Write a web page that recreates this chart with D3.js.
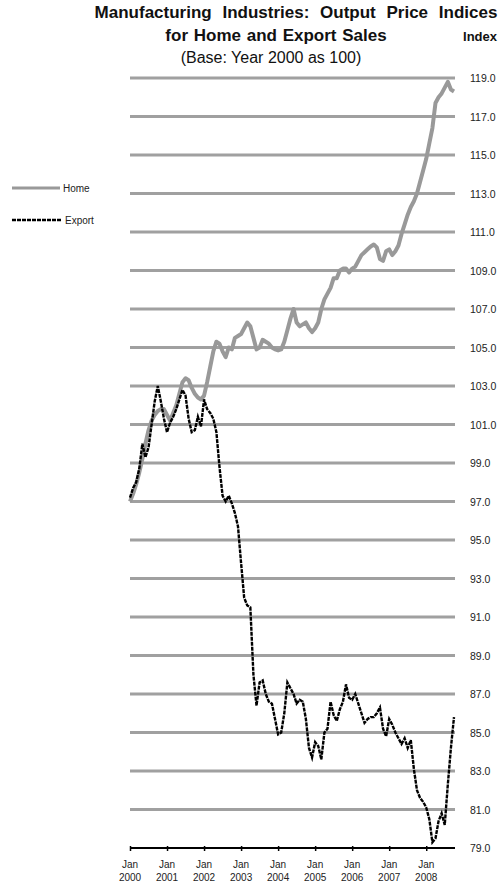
<!DOCTYPE html>
<html>
<head>
<meta charset="utf-8">
<script src="https://cdn.jsdelivr.net/npm/d3@7"></script>
<style>
  html, body { margin: 0; padding: 0; background: #fff; }
  svg { display: block; font-family: "Liberation Sans", Arial, sans-serif; }
</style>
</head>
<body>
<svg id="chart" width="499" height="887"></svg>
<script>
// ---- Data (monthly, Jan 2000 .. Oct 2008) ----
const startYear = 2000;
const homeValues = [
  97.0, 97.4, 97.9, 98.5, 99.2, 100.0, 100.7, 101.2, 101.5, 101.7, 101.8, 101.8,
  101.5, 101.2, 101.6, 102.0, 102.6, 103.2, 103.4, 103.3, 102.9, 102.6, 102.4, 102.3,
  102.5, 103.2, 104.0, 104.8, 105.3, 105.2, 104.8, 104.5, 105.0, 104.9, 105.5, 105.6,
  105.7, 106.0, 106.3, 106.1, 105.5, 104.9, 105.0, 105.4, 105.3, 105.2, 105.0, 104.9,
  104.85, 104.9, 105.3, 105.9, 106.5, 107.0, 106.3, 106.1, 106.2, 106.3, 106.0, 105.8,
  106.0, 106.3, 107.0, 107.5, 107.8, 108.1, 108.6, 108.6, 109.0, 109.1, 109.1, 108.9,
  109.1, 109.2, 109.5, 109.8, 109.95, 110.1, 110.25, 110.35, 110.2, 109.6, 109.5, 110.0,
  110.1, 109.8, 110.0, 110.3, 110.9, 111.4, 111.9, 112.3, 112.6, 113.0, 113.6, 114.2,
  114.8, 115.6, 116.4, 117.7, 118.0, 118.2, 118.5, 118.8, 118.4, 118.3
];
const exportValues = [
  97.2, 97.7, 98.0, 98.7, 100.0, 99.3, 99.8, 101.0, 102.2, 103.0, 102.2, 101.3,
  100.6, 101.1, 101.4, 101.8, 102.3, 102.8, 102.5, 101.3, 100.6, 100.7, 101.4, 100.9,
  102.3, 101.8, 101.6, 101.3, 100.6, 98.8, 97.3, 97.0, 97.3, 96.9, 96.4, 95.7,
  93.8, 92.0, 91.6, 91.5, 88.0, 86.4, 87.6, 87.7, 87.0, 86.6, 86.5, 85.7,
  84.9, 85.0, 86.0, 87.6, 87.3, 87.0, 86.5, 86.7, 86.6, 85.7, 84.2, 83.7,
  84.5, 84.3, 83.6, 85.0, 85.2, 86.6, 85.9, 85.6, 86.2, 86.6, 87.5, 86.8,
  86.7, 87.0, 86.5, 86.0, 85.5, 85.7, 85.8, 85.8, 86.0, 86.3, 85.2, 84.8,
  85.7, 85.4, 85.0, 84.7, 84.4, 84.7, 84.2, 84.6, 83.1, 82.0, 81.6, 81.4,
  81.1, 80.5, 79.3, 79.5, 80.4, 80.8, 80.2, 82.3, 84.2, 85.8
];
const yTicks = [79,81,83,85,87,89,91,93,95,97,99,101,103,105,107,109,111,113,115,117,119];
const xTickYears = [2000,2001,2002,2003,2004,2005,2006,2007,2008];
const seriesNames = ["Home", "Export"];
const titleLines = ["Manufacturing Industries: Output Price Indices", "for Home and Export Sales", "(Base: Year 2000 as 100)"];
const unitLabel = "Index";

// ---- Layout ----
const svg = d3.select("#chart");
const plot = { left: 130, right: 454, top: 78, bottom: 848 };

const x = d3.scaleLinear().domain([0, homeValues.length - 1]).range([plot.left, plot.right]);
const y = d3.scaleLinear().domain([79, 119]).range([plot.bottom, plot.top]);

// gridlines
svg.append("g").selectAll("line")
  .data(yTicks.filter(d => d > 79))
  .join("line")
  .attr("x1", plot.left).attr("x2", plot.right + 1)
  .attr("y1", d => y(d)).attr("y2", d => y(d))
  .attr("stroke", "#a0a0a0").attr("stroke-width", 3);

// y labels (right side)
svg.append("g").selectAll("text")
  .data(yTicks)
  .join("text")
  .attr("x", 470).attr("y", d => y(d))
  .attr("dominant-baseline", "central")
  .attr("font-size", 10.5).attr("fill", "#222")
  .text(d => d.toFixed(1));

// x axis
const xAxis = d3.axisBottom(x)
  .tickValues(xTickYears.map(yr => (yr - startYear) * 12))
  .tickSizeInner(3).tickSizeOuter(0)
  .tickFormat("");
const gx = svg.append("g").attr("transform", `translate(0,${y(79)})`).call(xAxis);
gx.select(".domain").attr("stroke", "#000").attr("stroke-width", 2.2)
  .attr("d", `M${plot.left},0H${plot.right + 1}`);
gx.selectAll(".tick line").attr("stroke", "#000").attr("stroke-width", 1.5).attr("y1", -2).attr("y2", 3);

const xl = svg.append("g").selectAll("g")
  .data(xTickYears)
  .join("g")
  .attr("transform", yr => `translate(${x((yr - startYear) * 12)},0)`);
xl.append("text").attr("y", 868).attr("text-anchor", "middle").attr("font-size", 10).attr("fill", "#222").text("Jan");
xl.append("text").attr("y", 881).attr("text-anchor", "middle").attr("font-size", 10).attr("fill", "#222").text(d => d);

// lines
const line = d3.line().x((d, i) => x(i)).y(d => y(d)).curve(d3.curveLinear);
svg.append("path").datum(homeValues)
  .attr("d", line).attr("fill", "none")
  .attr("stroke", "#999999").attr("stroke-width", 4).attr("stroke-linejoin", "round");
svg.append("path").datum(exportValues)
  .attr("d", line).attr("fill", "none")
  .attr("stroke", "#000").attr("stroke-width", 2.4).attr("stroke-dasharray", "4,1");

// legend
const legend = svg.append("g");
legend.append("line").attr("x1", 12).attr("x2", 60).attr("y1", 188).attr("y2", 188)
  .attr("stroke", "#999999").attr("stroke-width", 3);
legend.append("text").attr("x", 63).attr("y", 188).attr("dominant-baseline", "central")
  .attr("font-size", 10).attr("fill", "#222").text(seriesNames[0]);
legend.append("line").attr("x1", 12).attr("x2", 62).attr("y1", 220).attr("y2", 220)
  .attr("stroke", "#000").attr("stroke-width", 2.4).attr("stroke-dasharray", "4,1");
legend.append("text").attr("x", 65).attr("y", 220).attr("dominant-baseline", "central")
  .attr("font-size", 10).attr("fill", "#222").text(seriesNames[1]);

// titles
svg.append("text").attr("x", 296).attr("y", 18).attr("text-anchor", "middle")
  .attr("font-size", 17).attr("font-weight", "bold").attr("word-spacing", 6).attr("fill", "#111").text(titleLines[0]);
svg.append("text").attr("x", 276).attr("y", 41).attr("text-anchor", "middle")
  .attr("font-size", 17).attr("font-weight", "bold").attr("word-spacing", 1).attr("fill", "#111").text(titleLines[1]);
svg.append("text").attr("x", 271).attr("y", 63).attr("text-anchor", "middle")
  .attr("font-size", 16).attr("fill", "#111").text(titleLines[2]);
svg.append("text").attr("x", 497).attr("y", 41).attr("text-anchor", "end")
  .attr("font-size", 13).attr("font-weight", "bold").attr("fill", "#111").text(unitLabel);
</script>
</body>
</html>
